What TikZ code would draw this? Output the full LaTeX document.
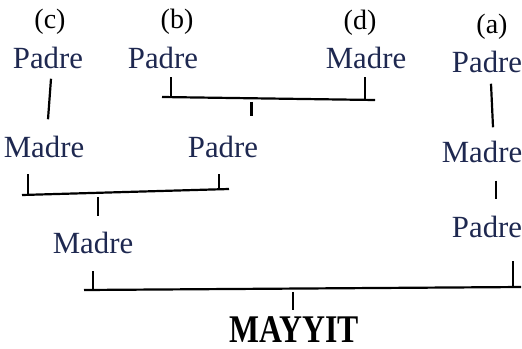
\documentclass[tikz,border=0pt]{standalone}
\usepackage{fontspec}
\setmainfont{Liberation Serif}
\newfontfamily\deadfont[FakeStretch=0.81]{Liberation Serif}
\usetikzlibrary{positioning, calc}
\definecolor{kinblue}{RGB}{30,40,80}

\begin{document}
\begin{tikzpicture}[x=0.5pt,y=-0.5pt,
    kin/.style={text=kinblue, inner sep=0pt, font=\fontsize{15.4}{18}\selectfont},
    tag/.style={inner sep=0pt, font=\fontsize{14}{16}\selectfont},
    tie/.style={line width=1.1pt}]
    \useasboundingbox (0,0) rectangle (522,348);

    \node[tag] (tc) at (50,22) {(c)};
    \node[tag] (tb) at (177,22) {(b)};
    \node[tag] (td) at (360,23) {(d)};
    \node[tag] (ta) at (492,27) {(a)};

    \node[kin] (pc) at (48,58) {Padre};
    \node[kin] (pb) at (163,58) {Padre};
    \node[kin] (md) at (366,58) {Madre};
    \node[kin] (pa) at (487,62) {Padre};
    \node[kin] (mc) at (44,147) {Madre};
    \node[kin] (pp) at (223,147) {Padre};
    \node[kin] (ma) at (482,152) {Madre};
    \node[kin] (pa2) at (487,227) {Padre};
    \node[kin] (mm) at (93,243) {Madre};
    \node[inner sep=0pt, font=\deadfont\fontsize{19.6}{22}\selectfont\bfseries] (dead) at (294,330) {MAYYIT};

    \draw[tie] ($(pc.south)+(3,9.5)$) -- ($(mc.north)+(4,-16.5)$);
    \draw[tie] ($(pa.south)+(4,10.5)$) -- ($(ma.north)+(11,-13.5)$);
    \draw[tie] ($(ma.south)+(14,17.5)$) -- ($(pa2.north)+(9,-16.5)$);

    \coordinate (bd1) at (162,97);
    \coordinate (bd2) at (375,100);
    \draw[tie] (bd1) -- (bd2);
    \coordinate (ub) at ($(bd1)!0.042!(bd2)$);
    \coordinate (ud) at ($(bd1)!0.953!(bd2)$);
    \coordinate (dbd) at ($(bd1)!0.42!(bd2)$);
    \draw[tie, shorten >=3.75pt] (ub) -- (ub |- pb.south);
    \draw[tie, shorten >=3.75pt] (ud) -- (ud |- md.south);
    \draw[tie, shorten <=1.85pt, shorten >=9.75pt] (dbd) -- (dbd |- pp.north);

    \coordinate (cp1) at (22,195);
    \coordinate (cp2) at (229,189);
    \draw[tie] (cp1) -- (cp2);
    \coordinate (uc) at ($(cp1)!0.029!(cp2)$);
    \coordinate (up) at ($(cp1)!0.952!(cp2)$);
    \coordinate (dcp) at ($(cp1)!0.367!(cp2)$);
    \draw[tie, shorten >=7.75pt] (uc) -- (uc |- mc.south);
    \draw[tie, shorten >=7.75pt] (up) -- (up |- pp.south);
    \draw[tie, shorten <=2pt, shorten >=7.75pt] (dcp) -- (dcp |- mm.north);

    \coordinate (ma1) at (84,290);
    \coordinate (ma2) at (521,287);
    \draw[tie] (ma1) -- (ma2);
    \coordinate (um) at ($(ma1)!0.021!(ma2)$);
    \coordinate (ua) at ($(ma1)!0.982!(ma2)$);
    \coordinate (dma) at ($(ma1)!0.478!(ma2)$);
    \draw[tie, shorten >=8.25pt] (um) -- (um |- mm.south);
    \draw[tie, shorten >=11.25pt] (ua) -- (ua |- pa2.south);
    \draw[tie, shorten <=1.7pt, shorten >=3.5pt] (dma) -- (dma |- dead.north);
\end{tikzpicture}
\end{document}
